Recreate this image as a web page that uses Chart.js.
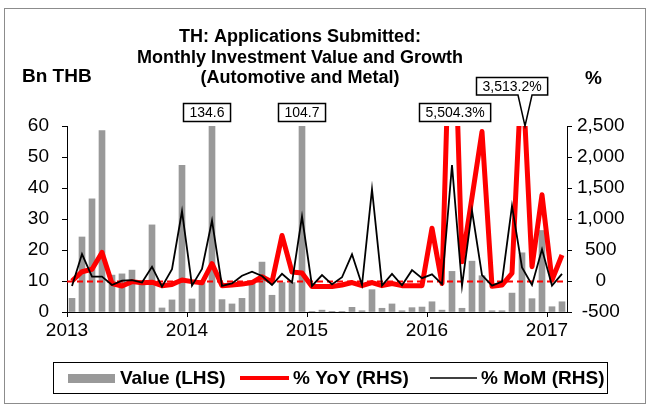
<!DOCTYPE html>
<html>
<head>
<meta charset="utf-8">
<script src="https://cdn.jsdelivr.net/npm/chart.js@4.4.1/dist/chart.umd.min.js"></script>
<style>
  html, body { margin: 0; padding: 0; background: #fff; }
  #wrap { width: 649px; height: 405px; }
</style>
</head>
<body>
<div id="wrap"><canvas id="chart" width="649" height="405"></canvas></div>
<script>
// Jan 2013 .. Feb 2017, one entry per month
const yearLabels = ['2013', '2014', '2015', '2016', '2017'];
const valueBn = [
  4.4, 24.2, 36.5, 58.5, 11.9, 12.3, 13.5, 10.1, 28.1, 1.3, 3.9, 47.3,
  4.2, 9.5, 134.6, 4.0, 2.6, 4.4, 10.0, 16.1, 5.4, 9.5, 9.5, 104.7,
  0.2, 0.6, 0.1, 0.2, 1.5, 0.4, 7.2, 1.2, 2.6, 0.4, 1.4, 1.6,
  3.3, 0.6, 13.1, 1.2, 16.4, 11.7, 0.4, 0.4, 6.1, 19.1, 4.3, 26.3,
  1.7, 3.3
];
const yoyPct = [
  0, 150, 190, 460, -40, -80, -10, -30, -20, -75, -55, 15,
  -10, -30, 280, -75, -65, -50, -25, 70, -15, 735, 145, 130,
  -90, -90, -90, -65, -25, -75, -25, -75, -40, -75, -75, -75,
  850, -40, 5504.3, 310, 1350, 2410, -85, -65, 125, 3513.2, 230, 1390,
  15, 420
];
const momPct = [
  -80, 435, 70, 70, -65, 5, 15, -25, 230, -90, 190, 1125,
  -75, 195, 975, -80, -40, 85, 150, 80, -65, 115, -25, 1040,
  -80, 95, -55, 60, 430, -65, 1480, -75, 115, -70, 175, 45,
  107, -50, 1870, -80, 1135, 95, -75, -10, 1210, 220, -65, 510,
  -75, 115
];
// labelled points that run off the chart: [month index, text]
const callouts = [[14, '134.6'], [23, '104.7'], [38, '5,504.3%'], [45, '3,513.2%']];

const FONT = '"Liberation Sans", Arial, sans-serif';
const toXY = arr => arr.map((v, i) => ({ x: i + 0.5, y: v }));

const decorations = {
  id: 'decorations',
  afterDatasetDraw(chart, args) {
    if (args.meta.type !== 'bar') return;
    // dashed zero line for the % axis
    const { ctx, chartArea } = chart;
    const y0 = Math.round(chart.scales.y1.getPixelForValue(0)) + 0.5;
    ctx.save();
    ctx.strokeStyle = '#ff0000';
    ctx.lineWidth = 2;
    ctx.setLineDash([6, 4]);
    ctx.beginPath();
    ctx.moveTo(chartArea.left, y0);
    ctx.lineTo(chartArea.right, y0);
    ctx.stroke();
    ctx.restore();
  },
  afterDraw(chart) {
    const { ctx, chartArea } = chart;
    ctx.save();
    // outer frame
    ctx.strokeStyle = '#8c8c8c';
    ctx.lineWidth = 1;
    ctx.strokeRect(4.5, 8.5, 641, 395);

    // title
    ctx.fillStyle = '#000';
    ctx.textAlign = 'center';
    ctx.textBaseline = 'middle';
    ctx.font = 'bold 18px ' + FONT;
    ctx.fillText('TH: Applications Submitted:', 300, 37);
    ctx.fillText('Monthly Investment Value and Growth', 300, 58);
    ctx.fillText('(Automotive and Metal)', 300, 78);
    ctx.font = 'bold 19px ' + FONT;
    ctx.textAlign = 'left';
    ctx.fillText('Bn THB', 22, 77);
    ctx.fillText('%', 585, 79);

    // callout boxes
    const xs = chart.scales.x;
    ctx.font = '14px ' + FONT;
    ctx.lineWidth = 1.5;
    callouts.forEach(([idx, text]) => {
      const px = xs.getPixelForValue(idx + 0.5);
      const w = ctx.measureText(text).width + 12;
      let cx = px, top = 103;
      if (idx === 14) cx = px - 5;
      if (idx === 38) cx = px + 3;
      if (idx === 45) { cx = px - 10; top = 77; }
      const h = 18;
      const left = Math.round(cx - w / 2) + 0.5;
      ctx.fillStyle = '#fff';
      ctx.strokeStyle = '#000';
      ctx.beginPath();
      if (idx === 45) {
        const tipX = px + 3, tipY = chartArea.top;
        ctx.moveTo(left, top + 0.5);
        ctx.lineTo(left + w, top + 0.5);
        ctx.lineTo(left + w, top + h);
        ctx.lineTo(tipX + 7, top + h);
        ctx.lineTo(tipX, tipY);
        ctx.lineTo(tipX - 7, top + h);
        ctx.lineTo(left, top + h);
        ctx.closePath();
      } else {
        ctx.rect(left, top + 0.5, w, h);
      }
      ctx.fill();
      ctx.stroke();
      ctx.fillStyle = '#000';
      ctx.textAlign = 'center';
      ctx.fillText(text, left + w / 2, top + h / 2 + 1);
    });

    // legend
    ctx.strokeStyle = '#000';
    ctx.lineWidth = 1;
    ctx.strokeRect(53.5, 362.5, 554, 31);
    const ly = 378;
    ctx.fillStyle = '#999999';
    ctx.fillRect(68, ly - 4, 47, 9);
    ctx.strokeStyle = '#ff0000';
    ctx.lineWidth = 4;
    ctx.beginPath(); ctx.moveTo(240, ly); ctx.lineTo(289, ly); ctx.stroke();
    ctx.strokeStyle = '#000';
    ctx.lineWidth = 1.5;
    ctx.beginPath(); ctx.moveTo(430, ly); ctx.lineTo(477, ly); ctx.stroke();
    ctx.fillStyle = '#000';
    ctx.font = 'bold 19px ' + FONT;
    ctx.textAlign = 'left';
    ctx.fillText('Value (LHS)', 120, ly + 1);
    ctx.fillText('% YoY (RHS)', 293, ly + 1);
    ctx.fillText('% MoM (RHS)', 481, ly + 1);
    ctx.restore();
  }
};

const axisBorder = { display: true, color: '#000', width: 1 };
const tickGrid = { display: true, drawOnChartArea: false, drawTicks: true, tickLength: 5, color: '#000', offset: false };
const tickFont = { family: FONT, size: 19 };

new Chart(document.getElementById('chart'), {
  data: {
    datasets: [
      {
        type: 'line', label: '% MoM (RHS)', data: toXY(momPct), yAxisID: 'y1', order: 1,
        borderColor: '#000', borderWidth: 1.8, pointRadius: 0, tension: 0, clip: 0
      },
      {
        type: 'line', label: '% YoY (RHS)', data: toXY(yoyPct), yAxisID: 'y1', order: 2,
        borderColor: '#ff0000', borderWidth: 5, pointRadius: 0, tension: 0, clip: 0,
        borderJoinStyle: 'round'
      },
      {
        type: 'bar', label: 'Value (LHS)', data: toXY(valueBn), yAxisID: 'y', order: 3,
        backgroundColor: '#999999', barThickness: 6, clip: 0
      }
    ]
  },
  options: {
    responsive: false,
    animation: false,
    layout: { padding: { top: 126, left: 0, right: 0, bottom: 0 } },
    plugins: { legend: { display: false }, tooltip: { enabled: false }, title: { display: false } },
    scales: {
      x: {
        type: 'linear', min: 0, max: 50, offset: false,
        afterBuildTicks: s => { s.ticks = yearLabels.map((_, i) => ({ value: i * 12 })); },
        afterFit: s => { s.height = 93; },
        ticks: {
          color: '#000', font: tickFont, padding: 2, maxRotation: 0,
          callback: v => yearLabels[v / 12]
        },
        grid: tickGrid, border: axisBorder
      },
      y: {
        position: 'left', min: 0, max: 60,
        afterFit: s => { s.width = 67; },
        ticks: { stepSize: 10, color: '#000', font: tickFont, padding: 13 },
        grid: tickGrid, border: axisBorder
      },
      y1: {
        position: 'right', min: -500, max: 2500,
        afterFit: s => { s.width = 82; },
        ticks: {
          stepSize: 500, color: '#000', font: tickFont, padding: 5, crossAlign: 'center',
          callback: v => v.toLocaleString('en-US')
        },
        grid: tickGrid, border: axisBorder
      }
    }
  },
  plugins: [decorations]
});
</script>
</body>
</html>
